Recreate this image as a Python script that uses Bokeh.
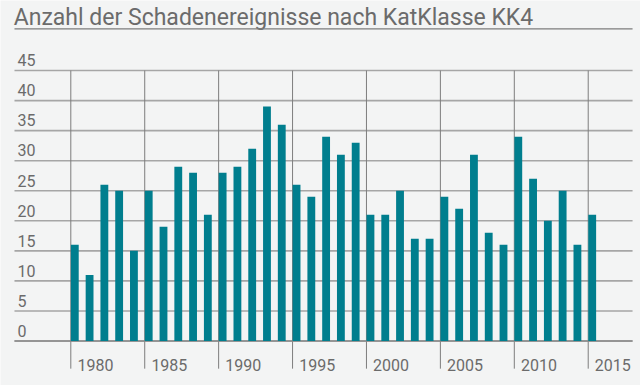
from bokeh.plotting import figure
from bokeh.models import ColumnDataSource, Range1d
from bokeh.core.properties import value
from bokeh.embed import file_html
from bokeh.resources import INLINE

# ---- data ----
years = list(range(1980, 2016))
counts = [16, 11, 26, 25, 15, 25, 19, 29, 28, 21,
          28, 29, 32, 39, 36, 26, 24, 34, 31, 33,
          21, 21, 25, 17, 17, 24, 22, 31, 18, 16,
          34, 27, 20, 25, 16, 21]
y_ticks = [0, 5, 10, 15, 20, 25, 30, 35, 40, 45]
y_tick_labels = [str(v) for v in y_ticks]
x_ticks = [1980, 1985, 1990, 1995, 2000, 2005, 2010, 2015]
x_tick_labels = [str(v) for v in x_ticks]
title_text = "Anzahl der Schadenereignisse nach KatKlasse KK4"

BG = "#f3f4f4"
TEXT = "#6b6b6b"
BAR = "#007e8e"

x0, x1 = 1975.244, 2018.537
y0, y1 = -7.40, 56.65
grid_left, grid_right = 1976.19, 2018.0

p = figure(width=640, height=385, output_backend="svg", toolbar_location=None,
           x_range=Range1d(x0, x1), y_range=Range1d(y0, y1),
           min_border=0, min_border_left=0, min_border_right=0,
           min_border_top=0, min_border_bottom=0)
p.axis.visible = False
p.grid.visible = False
p.outline_line_color = None
p.background_fill_color = BG
p.border_fill_color = BG

# horizontal gridlines
p.segment(x0=[grid_left] * len(y_ticks), y0=y_ticks, x1=[grid_right] * len(y_ticks), y1=y_ticks,
          line_color="#a6a6a6", line_width=1.6)
# vertical year lines
p.segment(x0=x_ticks, y0=[45] * len(x_ticks), x1=x_ticks, y1=[-4.6] * len(x_ticks),
          line_color="#7d7d7d", line_width=1)
# baseline
p.segment(x0=[grid_left], y0=[0], x1=[grid_right], y1=[0], line_color="#8a8a8a", line_width=1.6)

# bars
src = ColumnDataSource(dict(x=[y + 0.27 for y in years], top=counts))
p.vbar(x="x", top="top", bottom=0, width=0.53, source=src,
       fill_color=BAR, line_color=None)

# y tick labels (above their gridlines)
p.text(x=[grid_left + 0.2] * len(y_ticks), y=[v + 1.7 for v in y_ticks], text=y_tick_labels,
       text_font=value("Roboto"), text_font_size="16px", text_color=TEXT,
       text_baseline="alphabetic", text_align="left")
# x tick labels (right of year lines)
p.text(x=[v + 0.45 for v in x_ticks], y=[-3.95] * len(x_ticks), text=x_tick_labels,
       text_font=value("Roboto"), text_font_size="16px", text_color=TEXT,
       text_baseline="alphabetic", text_align="left")

# title and underline
p.text(x=[grid_left - 0.05], y=[53.75], text=[title_text],
       text_font=value("Roboto"), text_font_size="23px", text_color=TEXT,
       text_baseline="alphabetic", text_align="left")
p.segment(x0=[grid_left], y0=[51.93], x1=[grid_right], y1=[51.93], line_color="#7d7d7d", line_width=1.2)

open("out.html", "w").write(file_html(p, INLINE))
